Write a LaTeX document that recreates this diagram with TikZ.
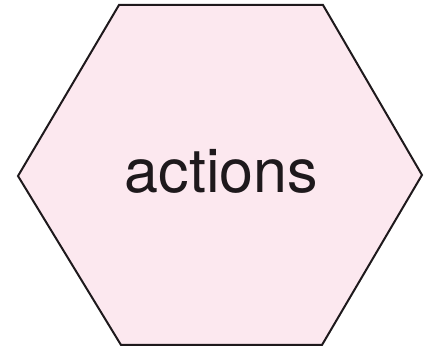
\documentclass[tikz,border=0pt]{standalone}
\usepackage{fontspec}
\setmainfont{TeX Gyre Heros}
\definecolor{hexfill}{RGB}{252,232,239}
\definecolor{hexline}{RGB}{30,25,28}
\begin{document}
\begin{tikzpicture}[x=1pt,y=1pt,
  hexstyle/.style={draw=hexline,fill=hexfill,line width=2pt,line join=miter},
  labelstyle/.style={font=\fontsize{61}{61}\selectfont,text=hexline,inner sep=0pt,anchor=base}]
\useasboundingbox (0,0) rectangle (432,347);
\draw[hexstyle] (119,342) -- (323,342) -- (422,172) -- (322,2) -- (121,2) -- (18,171) -- cycle;
\node[labelstyle] (lbl) at (221.5,154) {actions};
\end{tikzpicture}
\end{document}
